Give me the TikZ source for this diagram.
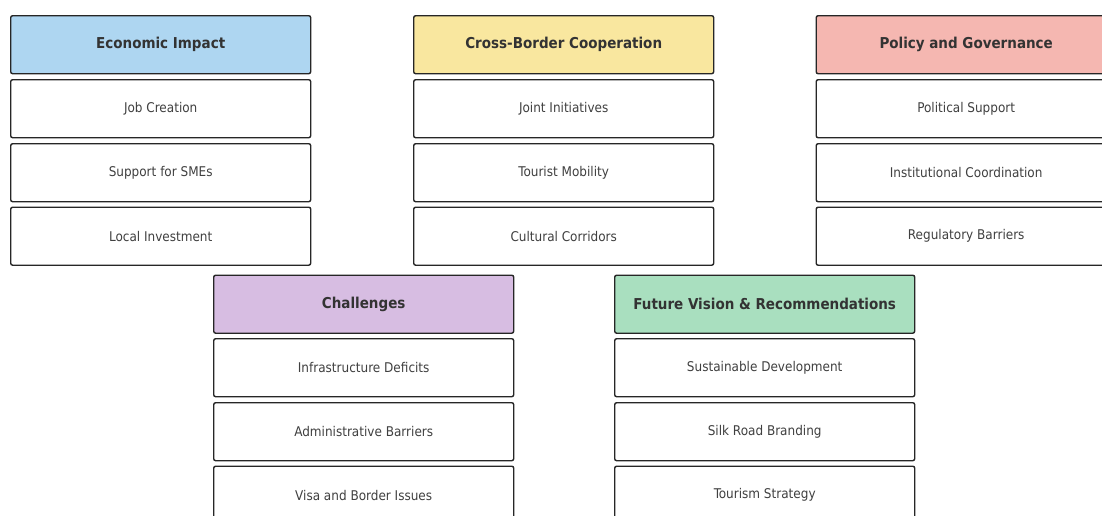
\documentclass[tikz,border=0pt]{standalone}
\usepackage{fontspec}
\setmainfont{DejaVu Sans Condensed}
\begin{document}
\begin{tikzpicture}[x=1pt,y=-1pt,
  card/.style={draw=black!85, line width=1.4pt, rounded corners=2pt, minimum width=300pt, minimum height=58pt, anchor=north west, inner sep=0pt, text=black!80},
  head/.style={card, font=\fontsize{15}{18}\selectfont\bfseries},
  item/.style={card, fill=white, text=black!75, font=\fontsize{13.4}{16}\selectfont}]
\definecolor{cblue}{HTML}{AED6F1}
\definecolor{cyellow}{HTML}{F9E79F}
\definecolor{cred}{HTML}{F5B7B1}
\definecolor{cpurple}{HTML}{D7BDE2}
\definecolor{cgreen}{HTML}{A9DFBF}
\useasboundingbox (0,0) rectangle (1102,515);
\fill[white] (0,0) rectangle (1102,515);
% top row of columns
\node[head, fill=cblue] (eh) at (10,15) {Economic Impact};
\node[item] (e1) at (10,79) {Job Creation};
\node[item] (e2) at (10,143) {Support for SMEs};
\node[item] (e3) at (10,206.5) {Local Investment};
\node[head, fill=cyellow] (ch) at (413,15) {Cross-Border Cooperation};
\node[item] (c1) at (413,79) {Joint Initiatives};
\node[item] (c2) at (413,143) {Tourist Mobility};
\node[item] (c3) at (413,206.5) {Cultural Corridors};
\node[head, fill=cred] (ph) at (815.5,15) {Policy and Governance};
\node[item] (p1) at (815.5,79) {Political Support};
\node[item] (p2) at (815.5,143) {Institutional Coordination};
\node[item] (p3) at (815.5,206.5) {Regulatory Barriers};
% bottom row of columns
\node[head, fill=cpurple] (xh) at (213,274.5) {Challenges};
\node[item] (x1) at (213,338) {Infrastructure Deficits};
\node[item] (x2) at (213,402) {Administrative Barriers};
\node[item] (x3) at (213,465.5) {Visa and Border Issues};
\node[head, fill=cgreen] (fh) at (614,274.5) {Future Vision \& Recommendations};
\node[item] (f1) at (614,338) {Sustainable Development};
\node[item] (f2) at (614,402) {Silk Road Branding};
\node[item] (f3) at (614,465.5) {Tourism Strategy};
\end{tikzpicture}
\end{document}
